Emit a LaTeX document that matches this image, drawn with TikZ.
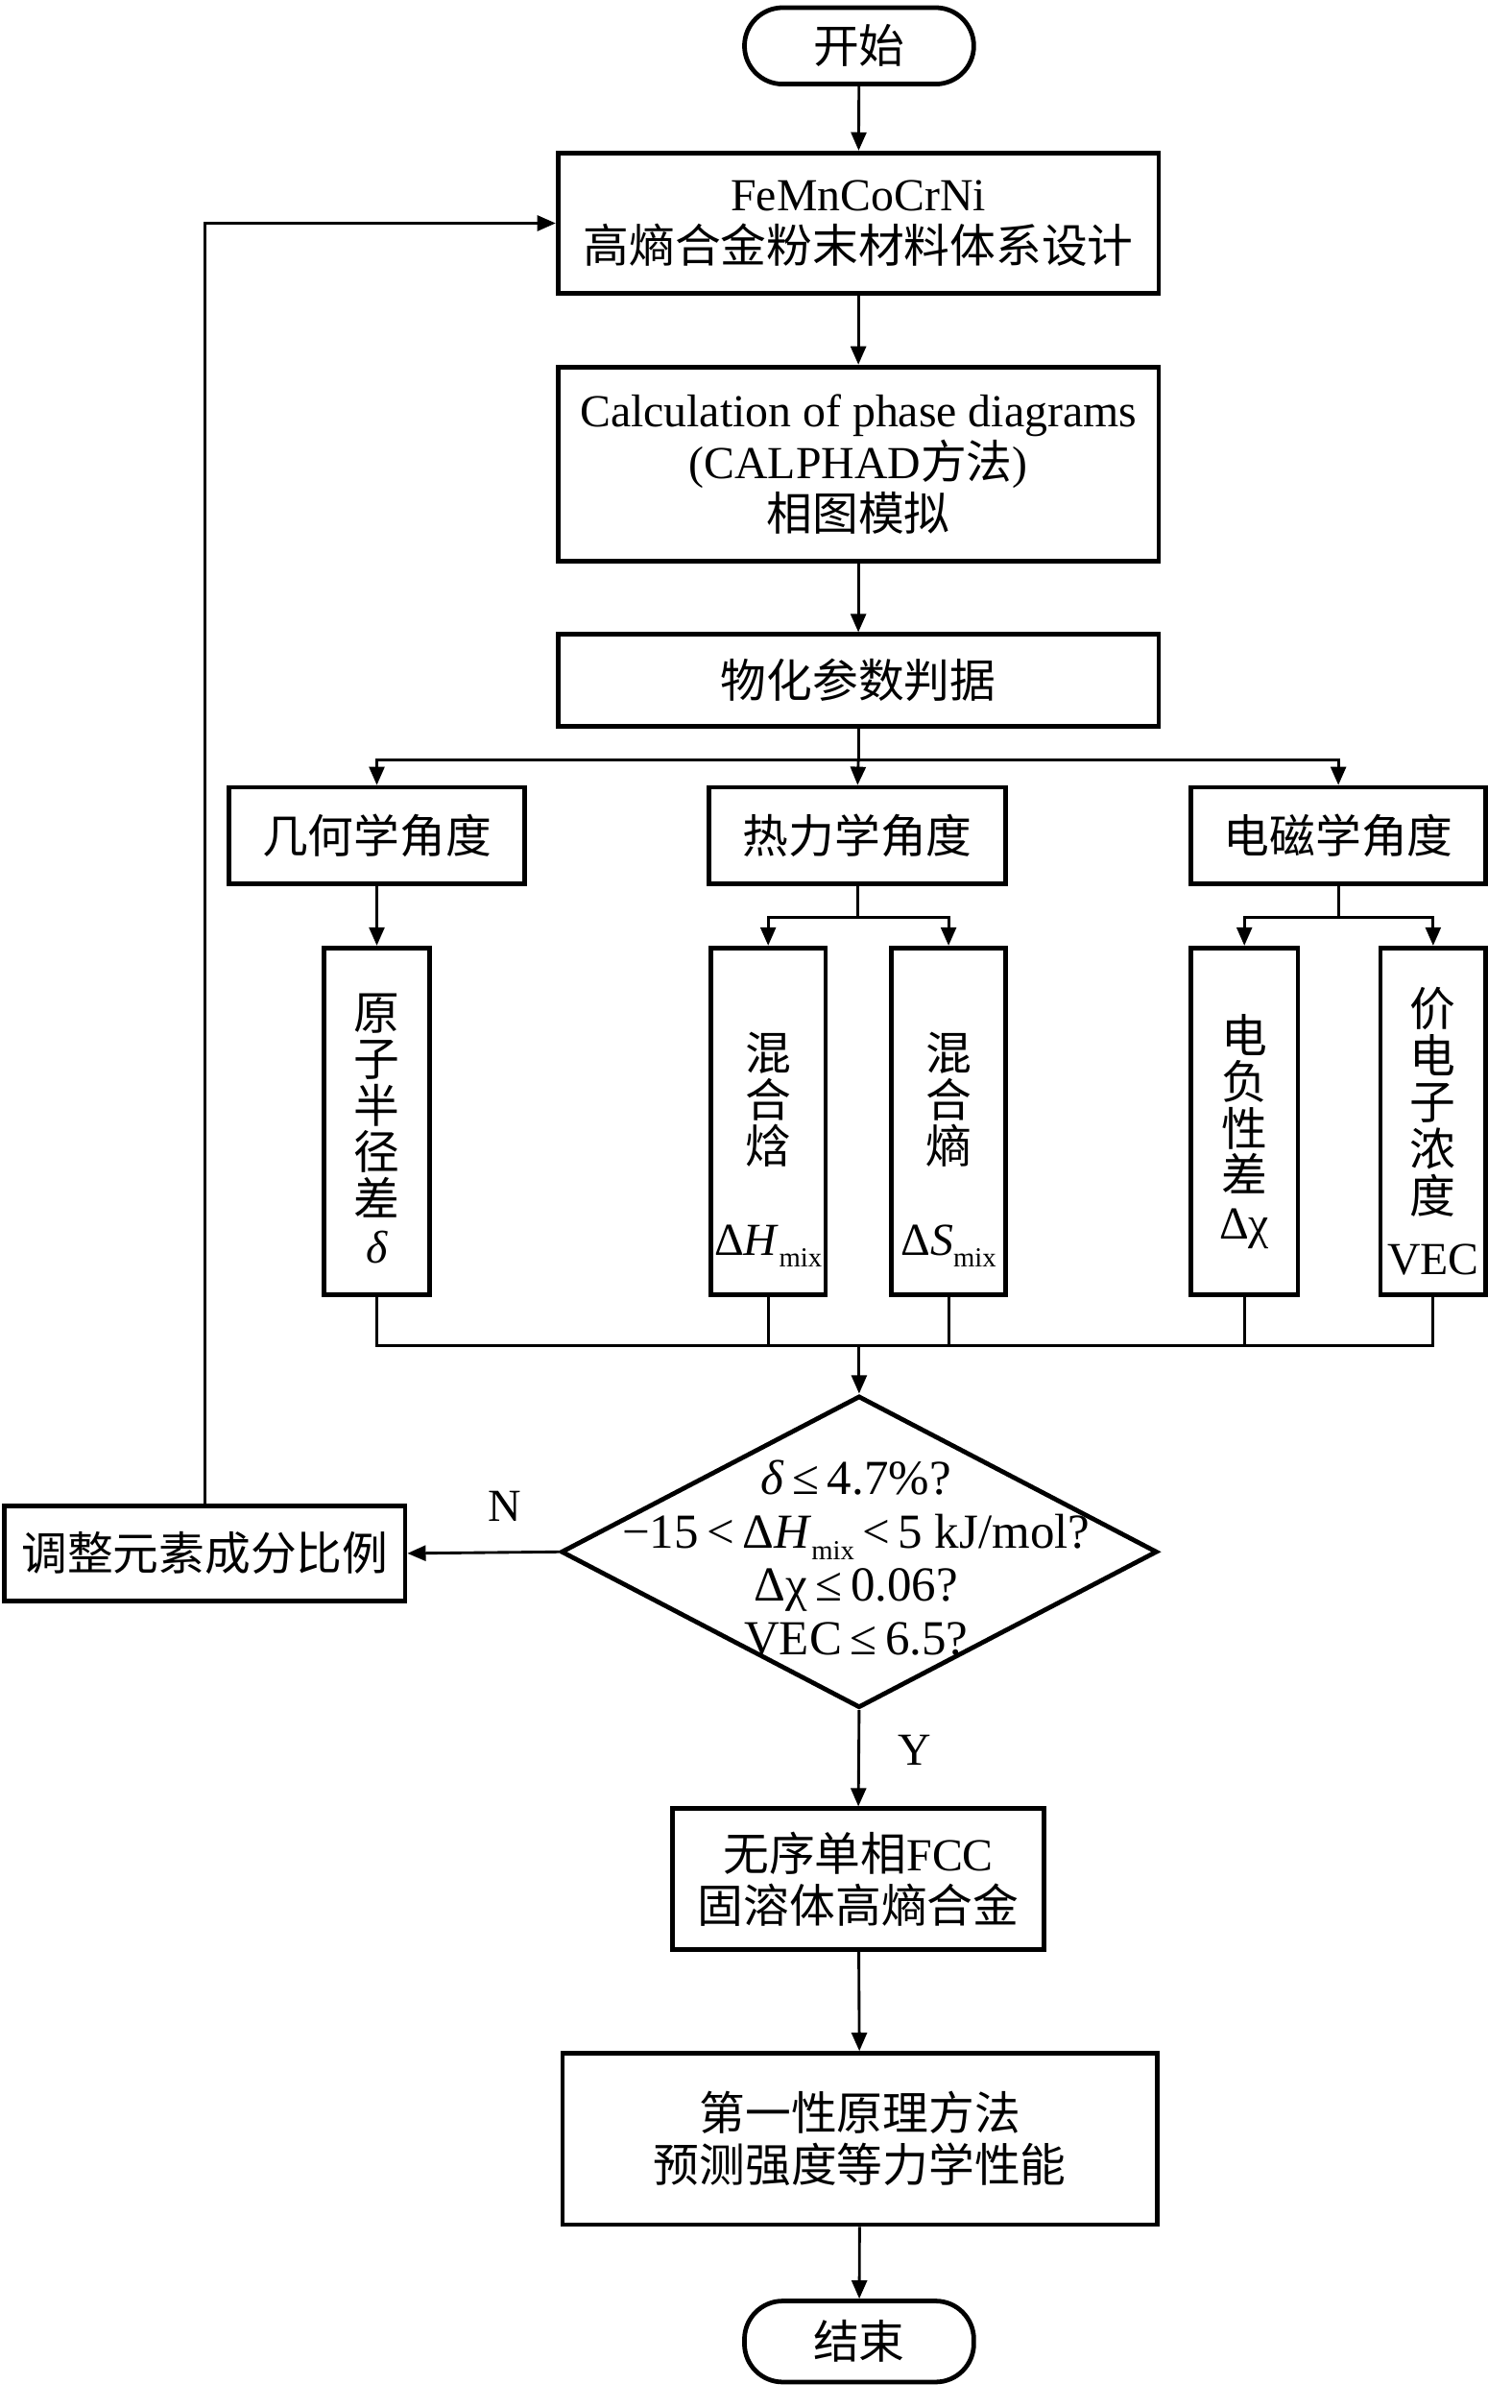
\documentclass[tikz,border=0pt]{standalone}
\usepackage{fontspec}
\setmainfont{Liberation Serif}
\newfontfamily\cjkf{Noto Sans CJK SC}
\usetikzlibrary{arrows.meta,shapes.geometric}
\newcommand\mixsub{\raisebox{-0.25em}{\fontsize{18}{18}\selectfont mix}}
\newcommand\lesym{\,≤\,}
\newcommand\ltsym{\,<\,}
\begin{document}
\begin{tikzpicture}[x=1pt,y=-1pt,
  every node/.style={font=\fontsize{30}{34}\selectfont, inner sep=0pt, align=center},
  box/.style={draw, line width=3pt, rectangle},
  pill/.style={draw, line width=3pt, rounded corners=25pt},
  vtext/.style={font=\fontsize{30}{30.5}\selectfont},
  conn/.style={line width=1.8pt},
  arr/.style={conn, -{Triangle[length=12pt,width=10pt]}},
]
\useasboundingbox (0,0) rectangle (989,1575);
% main column
\node[pill, minimum width=150, minimum height=50] (S) at (562,30) {\cjkf 开始};
\node[box, minimum width=393, minimum height=92] (A) at (561.5,146) {FeMnCoCrNi\\{\cjkf 高熵合金粉末材料体系设计}};
\node[box, minimum width=393, minimum height=127] (B) at (561.5,303.5) {Calculation of phase diagrams\\(CALPHAD{\cjkf 方法})\\{\cjkf 相图模拟}};
\node[box, minimum width=393, minimum height=60] (C) at (561.5,445) {\cjkf 物化参数判据};
% three aspects
\node[box, minimum width=193, minimum height=63] (D1) at (246.5,546.5) {\cjkf 几何学角度};
\node[box, minimum width=194, minimum height=63] (D2) at (561,546.5) {\cjkf 热力学角度};
\node[box, minimum width=193, minimum height=63] (D3) at (875.5,546.5) {\cjkf 电磁学角度};
% tall boxes
\node[box, minimum width=69, minimum height=227] (E1) at (246.5,733.5) {};
\node[box, minimum width=75, minimum height=227] (E2) at (502.5,733.5) {};
\node[box, minimum width=75, minimum height=227] (E3) at (620.5,733.5) {};
\node[box, minimum width=70, minimum height=227] (E4) at (814,733.5) {};
\node[box, minimum width=69, minimum height=227] (E5) at (937.5,733.5) {};
\node[vtext] (E1t) at (246.5,738) {\cjkf 原\\\cjkf 子\\\cjkf 半\\\cjkf 径\\\cjkf 差\\\rmfamily\textit{δ}};
\node[vtext] (E2t) at (502.5,752) {\cjkf 混\\\cjkf 合\\\cjkf 焓\\[30pt]\rmfamily Δ\textit{H}\mixsub};
\node[vtext] (E3t) at (620.5,752) {\cjkf 混\\\cjkf 合\\\cjkf 熵\\[30pt]\rmfamily Δ\textit{S}\mixsub};
\node[vtext] (E4t) at (814,740) {\cjkf 电\\\cjkf 负\\\cjkf 性\\\cjkf 差\\\rmfamily Δχ};
\node[vtext] (E5t) at (937.5,740) {\cjkf 价\\\cjkf 电\\\cjkf 子\\\cjkf 浓\\\cjkf 度\\[10pt]\rmfamily VEC};
% decision
\node[diamond, draw, line width=3pt, minimum width=390, minimum height=204] (Dia) at (562,1015) {};
\node[font=\fontsize{32}{35}\selectfont] (Diat) at (560,1019) {\textit{δ}\lesym 4.7\%?\\−15\ltsym Δ\textit{H}\mixsub\ltsym 5 kJ/mol?\\Δχ\lesym 0.06?\\VEC\lesym 6.5?};
\node[box, minimum width=262, minimum height=62] (F) at (134,1016) {\cjkf 调整元素成分比例};
\node (N) at (330,985) {N};
\node (Y) at (598,1145) {Y};
\node[box, minimum width=243, minimum height=92] (G) at (561.5,1229) {{\cjkf 无序单相}FCC\\{\cjkf 固溶体高熵合金}};
\node[box, minimum width=389, minimum height=112] (H) at (562.5,1399) {\cjkf 第一性原理方法\\\cjkf 预测强度等力学性能};
\node[pill, minimum width=150, minimum height=53] (End) at (562,1531.5) {\cjkf 结束};
% junction coordinates
\coordinate (j1) at (561.5,497);
\coordinate (j2) at (561,600);
\coordinate (j3) at (875.5,600);
\coordinate (j4) at (562,880);
% connectors
\draw[arr] (S) -- (A);
\draw[arr] (A) -- (B);
\draw[arr] (B) -- (C);
\draw[conn] (C.south) -- (j1);
\draw[arr] (j1) -| (D1.north);
\draw[arr] (j1) -- (D2.north);
\draw[arr] (j1) -| (D3.north);
\draw[arr] (D1) -- (E1);
\draw[conn] (D2.south) -- (j2);
\draw[arr] (j2) -| (E2.north);
\draw[arr] (j2) -| (E3.north);
\draw[conn] (D3.south) -- (j3);
\draw[arr] (j3) -| (E4.north);
\draw[arr] (j3) -| (E5.north);
\draw[conn] (E1.south) |- (j4);
\draw[conn] (E5.south) |- (j4);
\draw[conn] (E2.south) -- (E2.south |- j4);
\draw[conn] (E3.south) -- (E3.south |- j4);
\draw[conn] (E4.south) -- (E4.south |- j4);
\draw[arr] (j4) -- (Dia.north);
\draw[arr] (Dia.west) -- (F.east);
\draw[arr] (F.north) |- (A.west);
\draw[arr] (Dia.south) -- (G.north);
\draw[arr] (G) -- (H);
\draw[arr] (H) -- (End);
\end{tikzpicture}
\end{document}
